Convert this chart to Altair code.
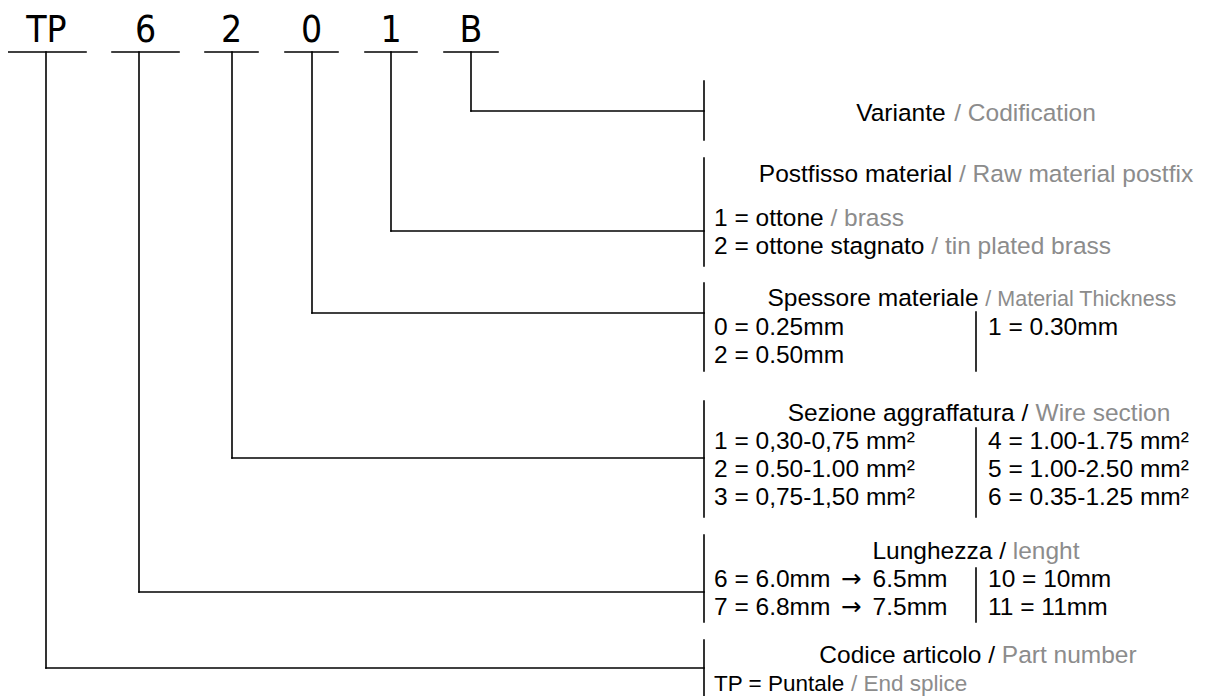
import altair as alt
import pandas as pd

# ---------------- data ----------------
# connector / bracket line segments (diagram coordinates = page pixels)
seg_x1 = [7, 112, 205, 285, 365, 444,
          46, 46, 139, 139, 232, 232, 312, 312, 391, 391, 471, 471,
          704, 704, 704, 704, 704, 704,
          976, 976, 976]
seg_y1 = [52, 52, 52, 52, 52, 52,
          52, 668, 52, 592, 52, 458, 52, 313, 52, 231, 52, 111,
          81, 158, 283, 401, 535, 640,
          312, 428, 568]
seg_x2 = [86, 179, 258, 338, 417, 498,
          46, 704, 139, 704, 232, 704, 312, 704, 391, 704, 471, 704,
          704, 704, 704, 704, 704, 704,
          976, 976, 976]
seg_y2 = [52, 52, 52, 52, 52, 52,
          668, 668, 592, 592, 458, 458, 313, 313, 231, 231, 111, 111,
          140, 266, 371, 517, 622, 700,
          371, 517, 622]

# code letters
code_letters = ["TP", "6", "2", "0", "1", "B"]
code_x = [46.5, 145.5, 231.5, 311.5, 391, 471]
code_y = [42, 42, 42, 42, 42, 42]

# group titles: black part, grey part, centre x, baseline y
title_black = ["Variante", "Postfisso material", "Spessore materiale",
               "Sezione aggraffatura /", "Lunghezza /", "Codice articolo /"]
title_gray = ["/ Codification", "/ Raw material postfix", "/ Material Thickness",
              "Wire section", "lenght", "Part number"]
title_cx = [976, 976, 972, 979, 976, 978]
title_y = [121, 182, 306, 421, 559, 663]
title_gray_size = [24.5, 24.5, 21.5, 24.5, 24.5, 24.5]

# option rows: black part, grey part ('' if none), left x, baseline y, size
row_black = ["1 = ottone", "2 = ottone stagnato",
             "0 = 0.25mm", "2 = 0.50mm", "1 = 0.30mm",
             "1 = 0,30-0,75 mm²", "2 = 0.50-1.00 mm²", "3 = 0,75-1,50 mm²",
             "4 = 1.00-1.75 mm²", "5 = 1.00-2.50 mm²", "6 = 0.35-1.25 mm²",
             "10 = 10mm", "11 = 11mm",
             "TP = Puntale"]
row_gray = ["/ brass", "/ tin plated brass",
            "", "", "",
            "", "", "",
            "", "", "",
            "", "",
            "/ End splice"]
row_x = [714, 714,
         714, 714, 988,
         714, 714, 714,
         988, 988, 988,
         988, 988,
         714]
row_y = [226, 254,
         335, 363, 335,
         449, 477, 505,
         449, 477, 505,
         587, 615,
         691]
row_size = [24.5, 24.5,
            24.5, 24.5, 24.5,
            24.5, 24.5, 24.5,
            24.5, 24.5, 24.5,
            24.5, 24.5,
            22.5]

# length rows with an arrow: from, to, left x, baseline y
len_from = ["6 = 6.0mm", "7 = 6.8mm"]
len_to = ["6.5mm", "7.5mm"]
len_x = [714, 714]
len_y = [587, 615]

BLACK = "#000000"
GRAY = "#8c8c8c"
FS = 24.5
ARROW_W = 0.838  # DejaVu Sans arrow advance (em)
ARROW_PAD = 4    # extra gap either side of the arrow

# Arial / Liberation Sans advance widths (1/1000 em) to lay multi-part strings side by side
AW = {" ": 278, "/": 278, "=": 584, "-": 333, ",": 278, ".": 278, "²": 333}
AW.update({d: 556 for d in "0123456789"})
AW.update(dict(zip("ABCDEFGHIJKLMNOPQRSTUVWXYZ",
                   [667, 667, 722, 722, 667, 611, 778, 722, 278, 500, 667, 556, 833,
                    722, 778, 667, 778, 722, 667, 611, 722, 667, 944, 667, 667, 611])))
AW.update(dict(zip("abcdefghijklmnopqrstuvwxyz",
                   [556, 556, 500, 556, 556, 278, 556, 556, 222, 222, 500, 222, 833,
                    556, 556, 556, 556, 333, 500, 278, 556, 500, 722, 500, 500, 500])))


def tw(s, size):
    return sum(AW.get(ch, 556) for ch in s) * size / 1000.0


rows = []
for b, g, cx, y, gs in zip(title_black, title_gray, title_cx, title_y, title_gray_size):
    total = tw(b, FS) + tw(" ", FS) + tw(g, gs)
    x0 = cx - total / 2
    rows.append({"x": x0, "y": y, "t": b, "c": BLACK, "s": FS})
    rows.append({"x": x0 + tw(b + " ", FS), "y": y, "t": g, "c": GRAY, "s": gs})
for b, g, x, y, s in zip(row_black, row_gray, row_x, row_y, row_size):
    rows.append({"x": x, "y": y, "t": b, "c": BLACK, "s": s})
    if g:
        rows.append({"x": x + tw(b + " ", s), "y": y, "t": g, "c": GRAY, "s": s})
arrows = []
for f, t, x, y in zip(len_from, len_to, len_x, len_y):
    rows.append({"x": x, "y": y, "t": f, "c": BLACK, "s": FS})
    ax = x + tw(f + " ", FS) + ARROW_PAD
    arrows.append({"x": ax, "y": y, "t": "→"})
    rows.append({"x": ax + ARROW_W * FS + tw(" ", FS) + ARROW_PAD, "y": y, "t": t,
                 "c": BLACK, "s": FS})

segs = pd.DataFrame({"x": seg_x1, "y": seg_y1, "x2": seg_x2, "y2": seg_y2})
codes = pd.DataFrame({"x": code_x, "y": code_y, "t": code_letters})
texts = pd.DataFrame(rows)
arr = pd.DataFrame(arrows)

# ---------------- chart ----------------
W, H = 1191, 688
xs = alt.Scale(domain=[8, 8 + W], nice=False, zero=False)
ys = alt.Scale(domain=[8, 8 + H], nice=False, zero=False, reverse=True)
X = alt.X("x:Q", scale=xs, axis=None)
Y = alt.Y("y:Q", scale=ys, axis=None)

lines = alt.Chart(segs).mark_rule(color="black", strokeWidth=1.6, strokeCap="square").encode(
    x=X, y=Y, x2="x2:Q", y2="y2:Q")

big = alt.Chart(codes).mark_text(
    font="DejaVu Sans Condensed, Liberation Sans",
    fontSize=37, align="center", baseline="alphabetic", color="black").encode(
    x=X, y=Y, text="t:N")

desc = alt.Chart(texts).mark_text(
    font="Liberation Sans", align="left", baseline="alphabetic").encode(
    x=X, y=Y, text="t:N",
    color=alt.Color("c:N", scale=None),
    size=alt.Size("s:Q", scale=None))

arrow_txt = alt.Chart(arr).mark_text(
    font="DejaVu Sans", fontSize=FS, align="left", baseline="alphabetic", color="black").encode(
    x=X, y=Y, text="t:N")

chart = alt.layer(lines, big, desc, arrow_txt).properties(
    width=W, height=H, padding=0, autosize="none", background="white"
).configure_view(stroke=None)

chart.save("out.html", embed_options={"renderer": "svg", "actions": False})
